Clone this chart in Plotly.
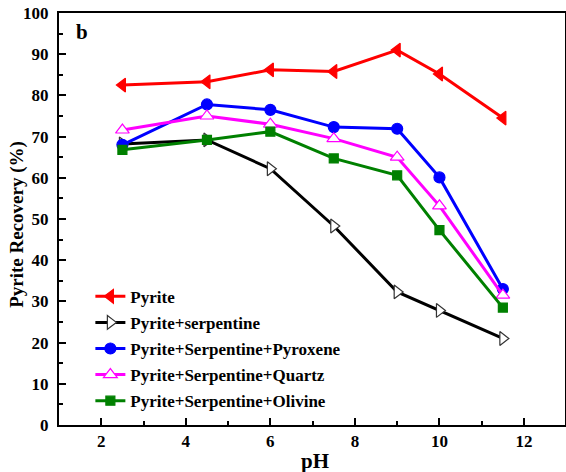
import plotly.graph_objects as go

ph = [2.5, 4.5, 6, 7.5, 9, 10, 11.5]
pyrite = [82.5, 83.3, 86.2, 85.8, 91.0, 85.2, 74.5]
pyrite_serp = [68.2, 69.2, 62.2, 48.3, 32.3, 27.8, 21.0]
pyrite_serp_pyrox = [68.0, 77.8, 76.5, 72.3, 71.9, 60.1, 33.0]
pyrite_serp_quartz = [71.6, 75.0, 73.0, 69.5, 65.0, 53.2, 31.5]
pyrite_serp_olivine = [66.8, 69.2, 71.2, 64.7, 60.6, 47.3, 28.5]

x_ticks = [2, 4, 6, 8, 10, 12]
y_ticks = [0, 10, 20, 30, 40, 50, 60, 70, 80, 90, 100]

series = [
    ("Pyrite", pyrite, "#ff0000", "triangle-left", "#ff0000", 12),
    ("Pyrite+serpentine", pyrite_serp, "#000000", "triangle-right", "white", 12),
    ("Pyrite+Serpentine+Pyroxene", pyrite_serp_pyrox, "#0000ff", "circle", "#0000ff", 11),
    ("Pyrite+Serpentine+Quartz", pyrite_serp_quartz, "#ff00ff", "triangle-up", "white", 12),
    ("Pyrite+Serpentine+Olivine", pyrite_serp_olivine, "#008000", "square", "#008000", 9),
]

fig = go.Figure()
for i, (name, vals, col, sym, fill, sz) in enumerate(series):
    mk_line = col if fill != "white" else ("#333333" if col == "#000000" else col)
    fig.add_trace(go.Scatter(
        x=ph, y=vals, name=f"<b>{name}</b>", mode="lines+markers",
        legendgroup=f"g{i}",
        line=dict(color=col, width=3),
        marker=dict(symbol=sym, size=sz, color=fill,
                    line=dict(color=mk_line, width=1.2)),
    ))

ff = "Liberation Serif"
fig.update_layout(
    width=566, height=472,
    margin=dict(l=59, r=1, t=13, b=47),
    paper_bgcolor="white", plot_bgcolor="white",
    font=dict(family=ff, color="black"),
    showlegend=True,
    legend=dict(x=0.062, y=0.355, xanchor="left", yanchor="top",
                bgcolor="rgba(0,0,0,0)", traceorder="grouped",
                tracegroupgap=1,
                font=dict(family=ff, size=17, color="black")),
    annotations=[
        dict(text="<b>b</b>", x=0.03, y=0.955, xref="paper", yref="paper",
             xanchor="left", yanchor="middle", showarrow=False,
             font=dict(family=ff, size=21, color="black")),
        dict(text="<b>pH</b>", x=0.505, y=-0.088, xref="paper", yref="paper",
             xanchor="center", yanchor="middle", showarrow=False,
             font=dict(family=ff, size=21, color="black")),
        dict(text="<b>Pyrite Recovery (%)</b>", x=-0.082, y=0.487, xref="paper", yref="paper",
             xanchor="center", yanchor="middle", showarrow=False, textangle=-90,
             font=dict(family=ff, size=19, color="black")),
    ],
)
fig.update_xaxes(
    range=[1, 12.97], tickvals=x_ticks, ticktext=[f"<b>{v}</b>" for v in x_ticks],
    ticks="inside", ticklen=7, tickwidth=2, tickcolor="black",
    minor=dict(ticks="inside", ticklen=4, tickwidth=1.5, tickcolor="black", dtick=1, tick0=1),
    showline=True, linecolor="black", linewidth=2, mirror=True,
    showgrid=False, zeroline=False, automargin=False,
    tickfont=dict(family=ff, size=17, color="black"),
)
fig.update_yaxes(
    range=[0, 100], tickvals=y_ticks, ticktext=[f"<b>{v}</b>" for v in y_ticks],
    ticks="inside", ticklen=7, tickwidth=2, tickcolor="black",
    minor=dict(ticks="inside", ticklen=4, tickwidth=1.5, tickcolor="black", dtick=5),
    showline=True, linecolor="black", linewidth=2, mirror=True,
    showgrid=False, zeroline=False, automargin=False, ticklabelstandoff=5,
    tickfont=dict(family=ff, size=17, color="black"),
)

fig.write_html("out.html", config={"displayModeBar": False},
               post_script="document.body.style.margin='0px';")
